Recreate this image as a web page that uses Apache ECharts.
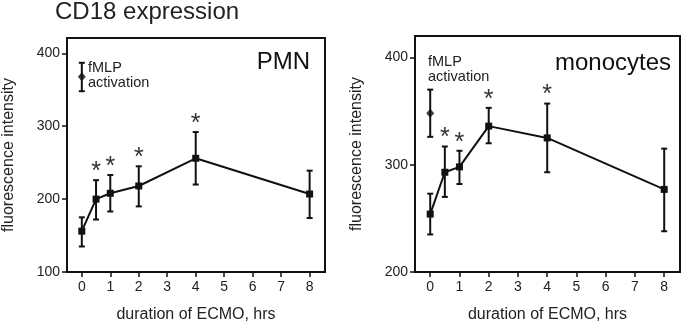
<!DOCTYPE html>
<html>
<head>
<meta charset="utf-8">
<script src="https://cdn.jsdelivr.net/npm/echarts@6/dist/echarts.min.js"></script>
<style>
html,body{margin:0;padding:0;background:#fff;}
#container{width:685px;height:328px;}
</style>
</head>
<body>
<div id="container"></div>
<script>
// hours of ECMO
var hours = [0, 0.5, 1, 2, 4, 8];
var hourTicks = [0, 1, 2, 3, 4, 5, 6, 7, 8];

// PMN
var pmnMean = [156, 200, 208, 218, 256, 207];
var pmnLow = [135, 172, 183, 190, 220, 174];
var pmnHigh = [175, 226, 233, 245, 292, 239];
var pmnFmlp = [368, 348, 387]; // mean, low, high at t=0
var pmnTicks = [100, 200, 300, 400];
var pmnStars = [0.5, 1, 2, 4];

// monocytes
var monoMean = [254, 293, 298, 336, 325, 277];
var monoLow = [235, 270, 282, 320, 293, 238];
var monoHigh = [273, 317, 313, 353, 357, 315];
var monoFmlp = [348, 326, 370];
var monoTicks = [200, 300, 400];
var monoStars = [0.5, 1, 2, 4];

var FONT = 'Liberation Sans, Arial, sans-serif';
var INK = '#111';

function errRender(params, api) {
    var x = api.value(0);
    var top = api.coord([x, api.value(2)]);
    var bot = api.coord([x, api.value(1)]);
    var st = {stroke: INK, lineWidth: 2};
    return {
        type: 'group',
        children: [
            {type: 'line', shape: {x1: top[0], y1: top[1], x2: bot[0], y2: bot[1]}, style: st},
            {type: 'line', shape: {x1: top[0] - 3, y1: top[1], x2: top[0] + 3, y2: top[1]}, style: st},
            {type: 'line', shape: {x1: bot[0] - 3, y1: bot[1], x2: bot[0] + 3, y2: bot[1]}, style: st}
        ]
    };
}

function starRender(params, api) {
    var p = api.coord([api.value(0), api.value(1)]);
    return {
        type: 'text',
        style: {x: p[0], y: p[1] - 8, text: '*', fill: '#333', font: '25px ' + FONT, align: 'center', verticalAlign: 'middle'}
    };
}

function zip(a, b) {
    var r = [];
    for (var i = 0; i < a.length; i++) r.push([a[i], b[i]]);
    return r;
}
function zip3(a, b, c) {
    var r = [];
    for (var i = 0; i < a.length; i++) r.push([a[i], b[i], c[i]]);
    return r;
}
function starData(stars, high) {
    return stars.map(function (h) { return [h, high[hours.indexOf(h)]]; });
}

function xAxis(idx) {
    return {
        type: 'value', gridIndex: idx, min: -0.52, max: 8.54,
        name: 'duration of ECMO, hrs', nameLocation: 'middle', nameGap: 35,
        nameTextStyle: {fontFamily: FONT, fontSize: 16, color: '#222'},
        axisLine: {show: true, onZero: false, lineStyle: {color: INK, width: 2}},
        axisTick: {show: true, length: 5, lineStyle: {color: INK, width: 1.5}, customValues: hourTicks},
        axisLabel: {fontFamily: FONT, fontSize: 14, color: '#222', margin: 8, customValues: hourTicks},
        splitLine: {show: false}
    };
}
function yAxis(idx, min, max, ticks) {
    return {
        type: 'value', gridIndex: idx, min: min, max: max,
        name: 'fluorescence intensity', nameLocation: 'middle', nameGap: 50,
        nameTextStyle: {fontFamily: FONT, fontSize: 16, color: '#222'},
        axisLine: {show: true, onZero: false, lineStyle: {color: INK, width: 2}},
        axisTick: {show: true, length: 5, lineStyle: {color: INK, width: 1.5}, customValues: ticks},
        axisLabel: {fontFamily: FONT, fontSize: 14, color: '#222', margin: 7, customValues: ticks},
        splitLine: {show: false}
    };
}

var myChart = echarts.init(document.getElementById('container'));
myChart.setOption({
    animation: false,
    backgroundColor: '#fff',
    grid: [
        {left: 61, top: 38, width: 264, height: 240, show: true, borderColor: INK, borderWidth: 2},
        {left: 415, top: 36, width: 265, height: 242, show: true, borderColor: INK, borderWidth: 2}
    ],
    xAxis: [xAxis(0), xAxis(1)],
    yAxis: [yAxis(0, 100, 421, pmnTicks), yAxis(1, 200, 420, monoTicks)],
    graphic: [
        {type: 'text', left: 55, top: 0, style: {text: 'CD18 expression', font: '24px ' + FONT, fill: '#222'}},
        {type: 'text', right: 375, top: 50, style: {text: 'PMN', font: '24px ' + FONT, fill: '#111'}},
        {type: 'text', left: 88, top: 60, style: {text: 'fMLP\nactivation', font: '14.5px ' + FONT, fill: '#222', lineHeight: 15}},
        {type: 'text', right: 14, top: 51, style: {text: 'monocytes', font: '24px ' + FONT, fill: '#111'}},
        {type: 'text', left: 428, top: 54, style: {text: 'fMLP\nactivation', font: '14.5px ' + FONT, fill: '#222', lineHeight: 15}}
    ],
    series: [
        {type: 'custom', xAxisIndex: 0, yAxisIndex: 0, renderItem: errRender, data: zip3(hours, pmnLow, pmnHigh), z: 3},
        {type: 'custom', xAxisIndex: 0, yAxisIndex: 0, renderItem: errRender, data: [[0, pmnFmlp[1], pmnFmlp[2]]], z: 3},
        {type: 'line', xAxisIndex: 0, yAxisIndex: 0, data: zip(hours, pmnMean), symbol: 'rect', symbolSize: 7,
            lineStyle: {color: INK, width: 2}, itemStyle: {color: INK}, z: 4},
        {type: 'scatter', xAxisIndex: 0, yAxisIndex: 0, data: [[0, pmnFmlp[0]]], symbol: 'diamond', symbolSize: [8, 9],
            itemStyle: {color: INK}, z: 4},
        {type: 'custom', xAxisIndex: 0, yAxisIndex: 0, renderItem: starRender, data: starData(pmnStars, pmnHigh), z: 5},

        {type: 'custom', xAxisIndex: 1, yAxisIndex: 1, renderItem: errRender, data: zip3(hours, monoLow, monoHigh), z: 3},
        {type: 'custom', xAxisIndex: 1, yAxisIndex: 1, renderItem: errRender, data: [[0, monoFmlp[1], monoFmlp[2]]], z: 3},
        {type: 'line', xAxisIndex: 1, yAxisIndex: 1, data: zip(hours, monoMean), symbol: 'rect', symbolSize: 7,
            lineStyle: {color: INK, width: 2}, itemStyle: {color: INK}, z: 4},
        {type: 'scatter', xAxisIndex: 1, yAxisIndex: 1, data: [[0, monoFmlp[0]]], symbol: 'diamond', symbolSize: [8, 9],
            itemStyle: {color: INK}, z: 4},
        {type: 'custom', xAxisIndex: 1, yAxisIndex: 1, renderItem: starRender, data: starData(monoStars, monoHigh), z: 5}
    ]
});
</script>
</body>
</html>
